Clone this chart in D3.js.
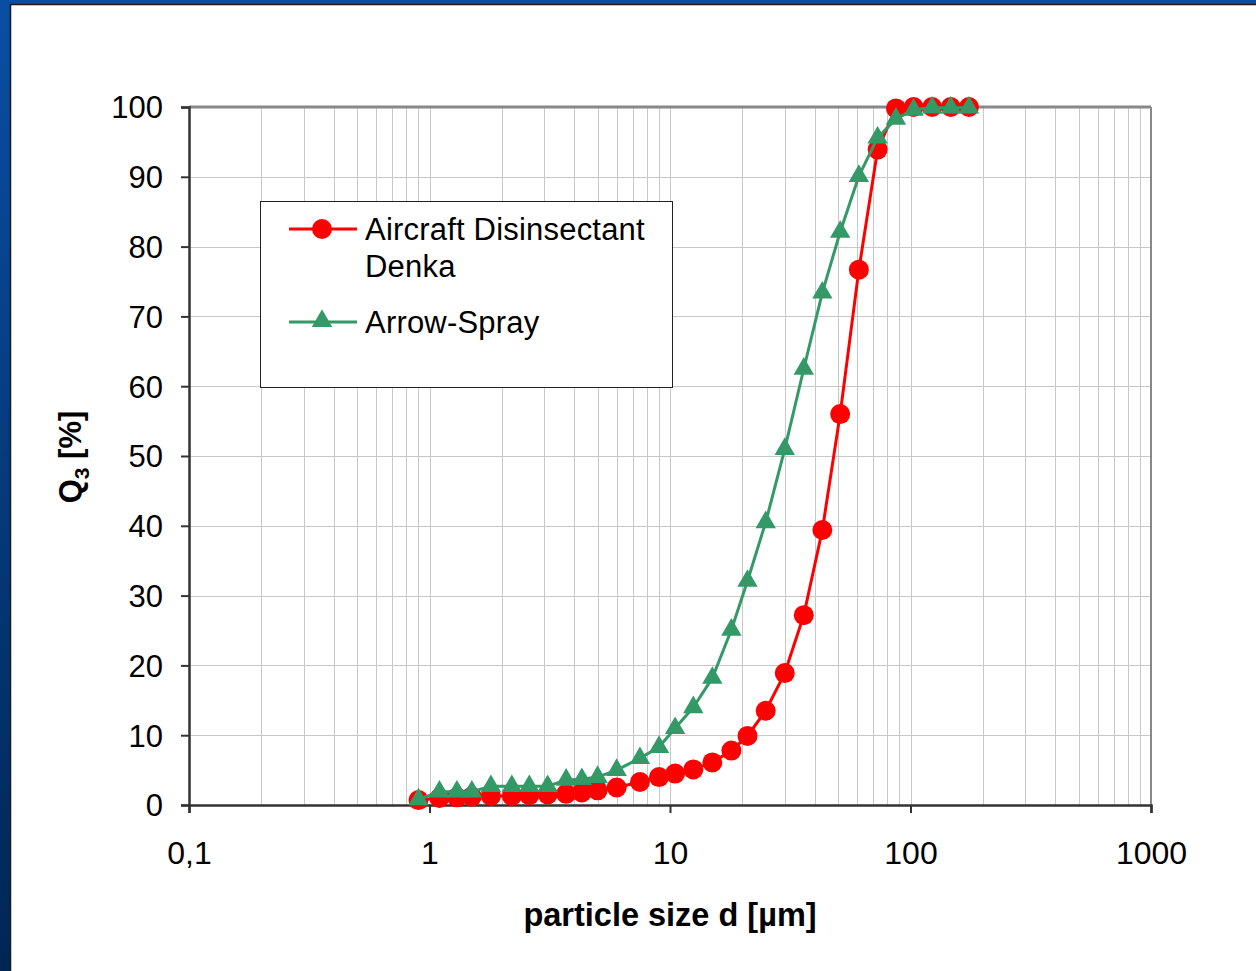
<!DOCTYPE html>
<html><head><meta charset="utf-8">
<script src="https://cdn.jsdelivr.net/npm/d3@7"></script>
<style>
html,body{margin:0;padding:0;background:#fff;}
svg{display:block;}
text{font-family:"Liberation Sans",Arial,sans-serif;}
</style></head>
<body>
<script>
const sizes = [0.9,1.1,1.3,1.5,1.8,2.2,2.6,3.1,3.7,4.3,5.0,6.0,7.5,9.0,10.5,12.5,15.0,18.0,21.0,25.0,30.0,36.0,43.0,51.0,61.0,73.0,87.0,103.0,123.0,147.0,175.0];
const denka = [0.7,1.0,1.1,1.2,1.3,1.3,1.4,1.5,1.6,1.8,2.1,2.5,3.3,4.0,4.5,5.1,6.1,7.8,9.9,13.5,18.9,27.2,39.4,56.0,76.7,93.9,99.8,100,100,100,100];
const arrow = [0.8,1.9,1.9,1.9,2.7,2.7,2.7,2.7,3.6,3.7,4.0,5.0,6.7,8.3,11.0,14.0,18.2,25.1,32.1,40.5,51.0,62.5,73.4,82.1,90.1,95.6,98.3,99.6,99.9,99.9,99.9];
const seriesNames = ["Aircraft Disinsectant|Denka","Arrow-Spray"];
const xTickValues = [0.1,1,10,100,1000];
const xTickLabels = ["0,1","1","10","100","1000"];
const yTickValues = [0,10,20,30,40,50,60,70,80,90,100];

const W=1256,H=971;
const svg=d3.select("body").append("svg").attr("width",W).attr("height",H);
const defs=svg.append("defs");
const g1=defs.append("linearGradient").attr("id","frame").attr("x1",0).attr("y1",0).attr("x2",0).attr("y2",1);
g1.append("stop").attr("offset","0%").attr("stop-color","#0a4ea3");
g1.append("stop").attr("offset","100%").attr("stop-color","#002655");
svg.append("rect").attr("x",0).attr("y",0).attr("width",W).attr("height",H).attr("fill","url(#frame)");
svg.append("rect").attr("x",10).attr("y",4).attr("width",W-10).attr("height",H-4).attr("fill","#fff");
svg.append("line").attr("x1",10.5).attr("x2",10.5).attr("y1",4).attr("y2",H).attr("stroke","#1a1a1a").attr("stroke-width",1.5);
svg.append("line").attr("x1",10).attr("x2",W).attr("y1",4.5).attr("y2",4.5).attr("stroke","#1a1a1a").attr("stroke-width",1.5);

const L=189,R=1151,T=107,B=805;
const x=d3.scaleLog().domain([0.1,1000]).range([L,R]);
const y=d3.scaleLinear().domain([0,100]).range([B,T]);

// grid
const minor=[];
for(let e=-1;e<3;e++){for(let k=1;k<10;k++){minor.push(k*Math.pow(10,e));}}
svg.append("g").selectAll("line").data(minor.filter(v=>v>0.1)).join("line")
 .attr("x1",d=>Math.round(x(d))+0.5).attr("x2",d=>Math.round(x(d))+0.5).attr("y1",T).attr("y2",B)
 .attr("stroke","#c8c8c8").attr("stroke-width",1);
svg.append("g").selectAll("line").data(yTickValues.filter(v=>v>0&&v<100)).join("line")
 .attr("x1",L).attr("x2",R).attr("y1",d=>Math.round(y(d))+0.5).attr("y2",d=>Math.round(y(d))+0.5)
 .attr("stroke","#c8c8c8").attr("stroke-width",1);
// plot border
svg.append("line").attr("x1",L).attr("x2",R).attr("y1",T).attr("y2",T).attr("stroke","#888").attr("stroke-width",3);
svg.append("line").attr("x1",R).attr("x2",R).attr("y1",T).attr("y2",B).attr("stroke","#888").attr("stroke-width",2);

// axes
const yAxis=d3.axisLeft(y).tickValues(yTickValues).tickSize(8).tickPadding(18).tickFormat(d3.format("d"));
const ya=svg.append("g").attr("transform",`translate(${L},0)`).call(yAxis);
ya.select(".domain").attr("stroke","#333").attr("stroke-width",2.5);
ya.selectAll(".tick line").attr("stroke","#333").attr("stroke-width",2);
ya.selectAll(".tick text").attr("font-size",31).attr("fill","#000").attr("dy","0.35em");

const xAxis=d3.axisBottom(x).tickValues(xTickValues).tickSize(8).tickPadding(28).tickFormat((d,i)=>xTickLabels[i]);
const xa=svg.append("g").attr("transform",`translate(0,${B})`).call(xAxis);
xa.select(".domain").attr("stroke","#333").attr("stroke-width",2.5);
xa.selectAll(".tick line").attr("stroke","#333").attr("stroke-width",2);
xa.selectAll(".tick text").attr("font-size",32).attr("fill","#000");

// titles
svg.append("text").attr("x",670).attr("y",926).attr("text-anchor","middle").attr("font-size",32.5).attr("font-weight","bold").text("particle size d [µm]");
const yt=svg.append("text").attr("transform","translate(81,457) rotate(-90)").attr("text-anchor","middle").attr("font-size",31).attr("font-weight","bold");
yt.append("tspan").text("Q");
yt.append("tspan").attr("font-size",21).attr("dy",8).text("3");
yt.append("tspan").attr("dy",-8).text(" [%]");

// series
const red="#ff0000", green="#339966";
const line=d3.line().x(d=>x(d[0])).y(d=>y(d[1]));
const dA=sizes.map((s,i)=>[s,arrow[i]]);
const dD=sizes.map((s,i)=>[s,denka[i]]);
svg.append("path").datum(dD).attr("d",line).attr("fill","none").attr("stroke",red).attr("stroke-width",3);
svg.append("g").selectAll("circle").data(dD).join("circle").attr("cx",d=>x(d[0])).attr("cy",d=>y(d[1])).attr("r",10).attr("fill",red);
svg.append("path").datum(dA).attr("d",line).attr("fill","none").attr("stroke",green).attr("stroke-width",3);
const tri=d3.symbol().type(d3.symbolTriangle).size(180);
svg.append("g").selectAll("path").data(dA).join("path").attr("transform",d=>`translate(${x(d[0])},${y(d[1])})`).attr("d",tri).attr("fill",green);

// legend
const lg=svg.append("g");
lg.append("rect").attr("x",260.5).attr("y",201.5).attr("width",412).attr("height",186).attr("fill","#fff").attr("stroke","#222").attr("stroke-width",1);
lg.append("line").attr("x1",289).attr("x2",357).attr("y1",229).attr("y2",229).attr("stroke",red).attr("stroke-width",3);
lg.append("circle").attr("cx",322).attr("cy",229).attr("r",10).attr("fill",red);
const n1=seriesNames[0].split("|");
lg.append("text").attr("x",365).attr("y",240).attr("font-size",31).attr("letter-spacing",0.2).text(n1[0]);
lg.append("text").attr("x",365).attr("y",277).attr("font-size",31).attr("letter-spacing",0.2).text(n1[1]);
lg.append("line").attr("x1",289).attr("x2",357).attr("y1",322).attr("y2",322).attr("stroke",green).attr("stroke-width",3);
lg.append("path").attr("transform","translate(322,321)").attr("d",tri).attr("fill",green);
lg.append("text").attr("x",365).attr("y",333).attr("font-size",31).attr("letter-spacing",0.2).text(seriesNames[1]);
</script>
</body></html>
